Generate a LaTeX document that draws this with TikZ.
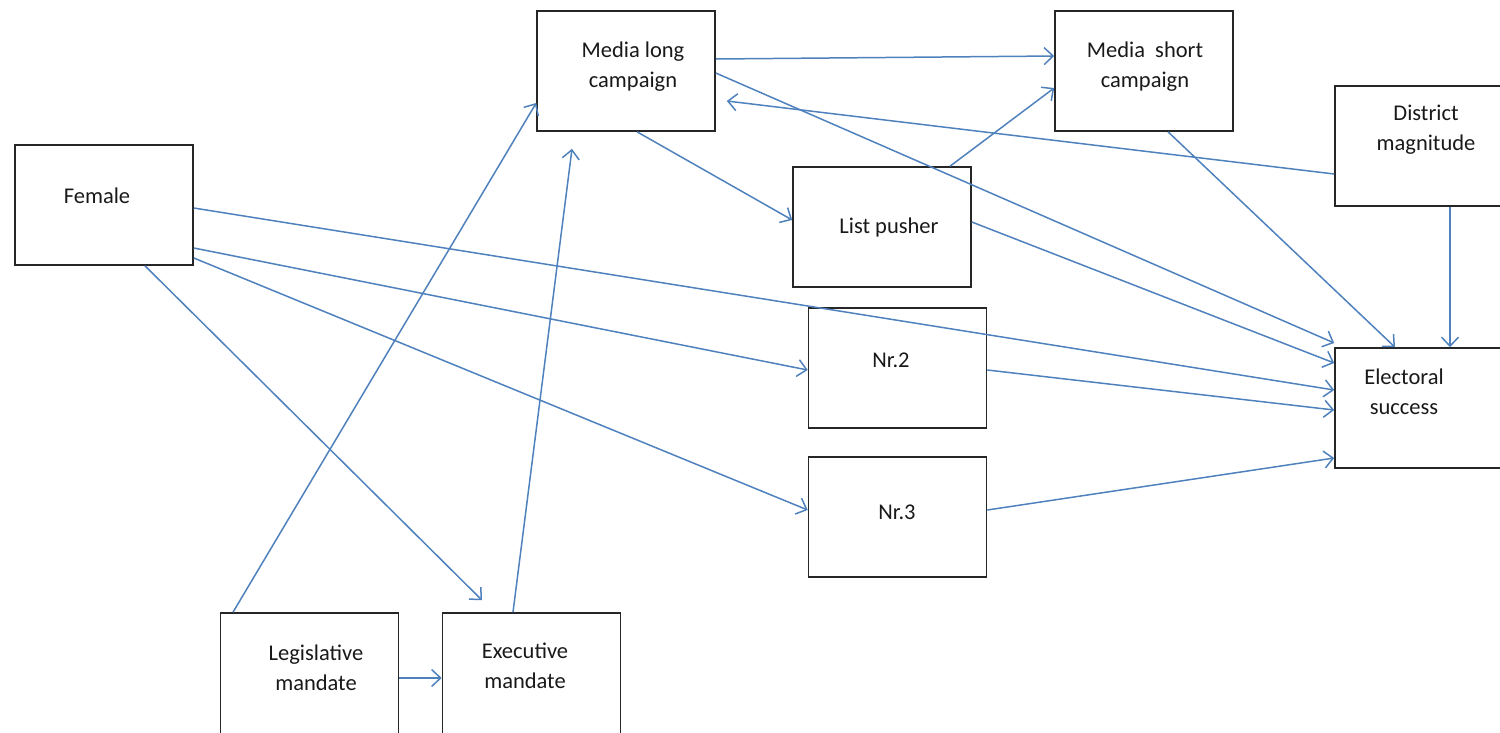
\documentclass[tikz,border=0pt]{standalone}
\usepackage{fontspec}
\setmainfont{Carlito}
\usetikzlibrary{arrows.meta}
\definecolor{linkblue}{HTML}{4F81BD}
\tikzstyle{box} = [rectangle, minimum width=178pt, minimum height=120pt, draw=black!85, line width=1.6pt, inner sep=0pt]
\tikzstyle{tallbox} = [box, minimum height=132pt]
\tikzstyle{caption} = [align=center, inner sep=0pt, font=\fontsize{22.5}{30}\selectfont, text=black!90]
\tikzstyle{arrow} = [draw=linkblue, line width=1.5pt, -{Straight Barb[length=9pt,width=17pt]}]

\begin{document}
\begin{tikzpicture}[x=1pt, y=1pt, node distance=149pt]
\useasboundingbox (0,0) rectangle (1500,-732);
% boxes
\node (female) [box] at (104,-205) {};
\node (medlong) [box] at (626,-71) {};
\node (medshort) [box] at (1144,-71) {};
\node (district) [box] at (1424,-146) {};
\node (list) [box] at (882,-227) {};
\node (nr2) [box] at (897.5,-368) {};
\node (nr3) [box, below of=nr2] {};
\node (elect) [box] at (1424,-408) {};
\node (legis) [tallbox] at (309.5,-679) {};
\node (exec) [tallbox, right of=legis, xshift=73pt] {};
% texts
\node (tfemale) [caption] at (97,-196) {Female};
\node (tmedlong) [caption] at (633,-67) {Media long\\campaign};
\node (tmedshort) [caption] at (1145,-67) {Media \ short\\campaign};
\node (tdistrict) [caption] at (1426,-130) {District\\magnitude};
\node (tlist) [caption] at (889,-227) {List pusher};
\node (tnr2) [caption] at (891,-360) {Nr.2};
\node (tnr3) [caption] at (897,-512) {Nr.3};
\node (telect) [caption] at (1404,-392) {Electoral\\success};
\node (tlegis) [caption] at (316,-668) {Legislative\\mandate};
\node (texec) [caption] at (525,-666) {Executive\\mandate};
% connectors
\draw [arrow] ([yshift=-3pt]female.east) -- ([yshift=18pt]elect.west);
\draw [arrow] ([yshift=-43pt]female.east) -- ([yshift=-2pt]nr2.west);
\draw [arrow] ([yshift=-53pt]female.east) -- ([yshift=7pt]nr3.west);
\draw [arrow] ([xshift=41pt]female.south) -- ([xshift=-49.5pt,yshift=12pt]exec.north);
\draw [arrow] ([xshift=-76.5pt]legis.north) -- ([yshift=-32pt]medlong.west);
\draw [arrow] ([xshift=-18.5pt]exec.north) -- ([xshift=-54pt,yshift=-17pt]medlong.south);
\draw [arrow] ([yshift=1pt]legis.east) -- ([yshift=1pt]exec.west);
\draw [arrow] ([yshift=12pt]medlong.east) -- ([yshift=15pt]medshort.west);
\draw [arrow] ([yshift=-2pt]medlong.east) -- ([yshift=65pt]elect.west);
\draw [arrow] ([xshift=11pt]medlong.south) -- ([yshift=7pt]list.west);
\draw [arrow] ([yshift=-28pt]district.west) -- ([xshift=11pt,yshift=-30pt]medlong.east);
\draw [arrow] ([xshift=68pt]list.north) -- ([yshift=-17pt]medshort.west);
\draw [arrow] ([yshift=5pt]list.east) -- ([yshift=45pt]elect.west);
\draw [arrow] ([xshift=24pt]medshort.south) -- ([xshift=-29pt]elect.north);
\draw [arrow] ([xshift=26pt]district.south) -- ([xshift=26pt]elect.north);
\draw [arrow] ([yshift=-2pt]nr2.east) -- ([yshift=-2pt]elect.west);
\draw [arrow] ([yshift=7pt]nr3.east) -- ([yshift=-50pt]elect.west);
\end{tikzpicture}
\end{document}
